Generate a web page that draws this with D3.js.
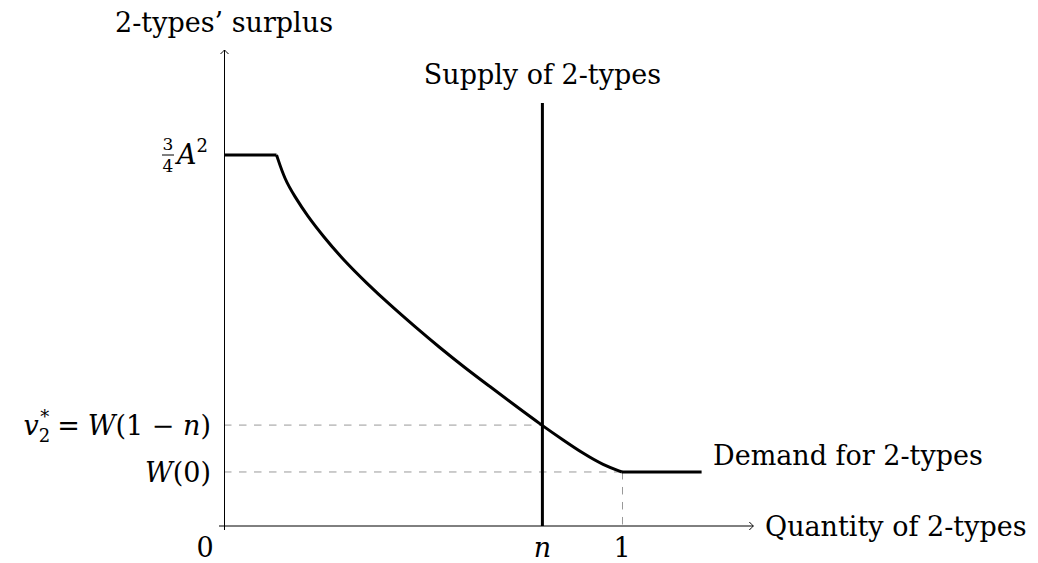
<!DOCTYPE html>
<html>
<head>
<meta charset="utf-8">
<style>
  body { margin: 0; background: #fff; }
  svg text { font-family: "DejaVu Serif", "Liberation Serif", serif; fill: #000; }
  .it { font-style: italic; }
</style>
</head>
<body>
<svg id="viz"></svg>
<script src="https://cdn.jsdelivr.net/npm/d3@7/dist/d3.min.js"></script>
<script>
var width = 1038;
var height = 563;

// demand curve (quantity, surplus); surplus measured so that 3/4 A^2 = 10
var demandX = [0.132, 0.153, 0.178, 0.208, 0.250, 0.300, 0.359, 0.417, 0.480, 0.543, 0.606, 0.668, 0.731, 0.798, 0.853, 0.903, 0.953, 1.0];
var demandY = [10, 9.33, 8.88, 8.38, 7.80, 7.17, 6.54, 5.96, 5.37, 4.80, 4.26, 3.76, 3.25, 2.72, 2.31, 1.95, 1.64, 1.456];
var topSurplus = 10;      // 3/4 A^2
var kinkX = 0.132;        // end of the flat top
var w0 = 1.456;           // W(0)
var wStar = 2.72;         // v2* = W(1-n)
var nVal = 0.8;           // supply n
var demandEnd = 1.2;
var supplyTop = 11.4;
var xAxisEnd = 1.33;
var yAxisEnd = 12.83;
var xTicks = ["0", "n", "1"];

var x = d3.scaleLinear().domain([0, 1]).range([224, 622]);
var y = d3.scaleLinear().domain([0, 10]).range([526, 155]);

var svg = d3.select("#viz").attr("width", width).attr("height", height);

// dashed guides
var dash = svg.append("g")
    .attr("stroke", "#999")
    .attr("stroke-width", 1)
    .attr("stroke-dasharray", "7.5,7.5")
    .attr("fill", "none");
dash.append("line").attr("x1", x(0)).attr("x2", x(nVal)).attr("y1", y(wStar)).attr("y2", y(wStar));
dash.append("line").attr("x1", x(0)).attr("x2", x(1)).attr("y1", y(w0)).attr("y2", y(w0));
dash.append("line").attr("x1", x(1) + 0.5).attr("x2", x(1) + 0.5).attr("y1", y(w0)).attr("y2", y(0));

// axes
var axes = svg.append("g").attr("stroke", "#000").attr("stroke-width", 1).attr("fill", "none");
axes.append("line").attr("x1", x(0) - 5).attr("x2", x(xAxisEnd)).attr("y1", y(0)).attr("y2", y(0));
axes.append("line").attr("x1", x(0) + 0.5).attr("x2", x(0) + 0.5).attr("y1", y(0) + 4).attr("y2", y(yAxisEnd));
// arrow heads
axes.append("path")
    .attr("d", "M" + (x(xAxisEnd) - 4) + "," + (y(0) - 4) + " Q" + (x(xAxisEnd) - 1) + "," + (y(0) - 1) + " " + x(xAxisEnd) + "," + y(0)
       + " Q" + (x(xAxisEnd) - 1) + "," + (y(0) + 1) + " " + (x(xAxisEnd) - 4) + "," + (y(0) + 4));
var ax = x(0) + 0.5, ay = y(yAxisEnd);
axes.append("path")
    .attr("d", "M" + (ax - 4) + "," + (ay + 4) + " Q" + (ax - 1) + "," + (ay + 1) + " " + ax + "," + ay
       + " Q" + (ax + 1) + "," + (ay + 1) + " " + (ax + 4) + "," + (ay + 4));

// curves
var thick = svg.append("g").attr("stroke", "#000").attr("stroke-width", 3).attr("fill", "none");
var lin = d3.line().x(function(d) { return x(d[0]); }).y(function(d) { return y(d[1]); });
var smooth = d3.line().x(function(d) { return x(d[0]); }).y(function(d) { return y(d[1]); }).curve(d3.curveBasis);

thick.append("path").attr("d", lin([[0, topSurplus], [kinkX, topSurplus]]));
thick.append("path").attr("d", smooth(d3.zip(demandX, demandY)));
thick.append("path").attr("d", lin([[1, w0], [demandEnd, w0]]));
thick.append("path").attr("d", lin([[nVal, 0], [nVal, supplyTop]]));

// labels
var fs = "27px";
svg.append("text").attr("x", x(0)).attr("y", 32).attr("text-anchor", "middle")
    .style("font-size", fs).text("2-types\u2019 surplus");
svg.append("text").attr("x", x(nVal)).attr("y", 84).attr("text-anchor", "middle")
    .style("font-size", fs).text("Supply of 2-types");
svg.append("text").attr("x", 713).attr("y", 465)
    .style("font-size", fs).text("Demand for 2-types");
svg.append("text").attr("x", 765).attr("y", y(0) + 10)
    .style("font-size", fs).text("Quantity of 2-types");

// x tick labels
var tickPos = [x(0) - 19, x(nVal), x(1)];
svg.selectAll(".tick").data(xTicks).enter().append("text")
    .attr("class", function(d) { return d === "n" ? "it" : null; })
    .attr("x", function(d, i) { return tickPos[i]; })
    .attr("y", y(0) + 31)
    .attr("text-anchor", "middle")
    .style("font-size", fs)
    .text(function(d) { return d; });

// 3/4 A^2
var fx = 168, fy = y(topSurplus);
svg.append("text").attr("x", fx).attr("y", fy - 5).attr("text-anchor", "middle").style("font-size", "17px").text("3");
svg.append("line").attr("x1", fx - 6).attr("x2", fx + 6).attr("y1", fy).attr("y2", fy).attr("stroke", "#000").attr("stroke-width", 1);
svg.append("text").attr("x", fx).attr("y", fy + 17).attr("text-anchor", "middle").style("font-size", "17px").text("4");
var a2 = svg.append("text").attr("x", 177).attr("y", fy + 9).style("font-size", fs);
a2.append("tspan").attr("class", "it").text("A");
a2.append("tspan").attr("dy", -12).style("font-size", "18px").text("2");

// v2* = W(1 - n)
var vs = svg.append("text").attr("x", 211).attr("y", y(wStar) + 10).attr("text-anchor", "end").style("font-size", fs);
vs.append("tspan").attr("class", "it").text("v");
vs.append("tspan").attr("dy", 7).style("font-size", "18px").text("2");
vs.append("tspan").attr("dx", -10).attr("dy", -19).style("font-size", "18px").text("*");
vs.append("tspan").attr("dx", 8).attr("dy", 12).text("=");
vs.append("tspan").attr("dx", 8).attr("class", "it").text("W");
vs.append("tspan").text("(1 \u2212 ");
vs.append("tspan").attr("class", "it").text("n");
vs.append("tspan").text(")");

var w0t = svg.append("text").attr("x", 211).attr("y", y(w0) + 10).attr("text-anchor", "end").style("font-size", fs);
w0t.append("tspan").attr("class", "it").text("W");
w0t.append("tspan").text("(0)");
</script>
</body>
</html>
